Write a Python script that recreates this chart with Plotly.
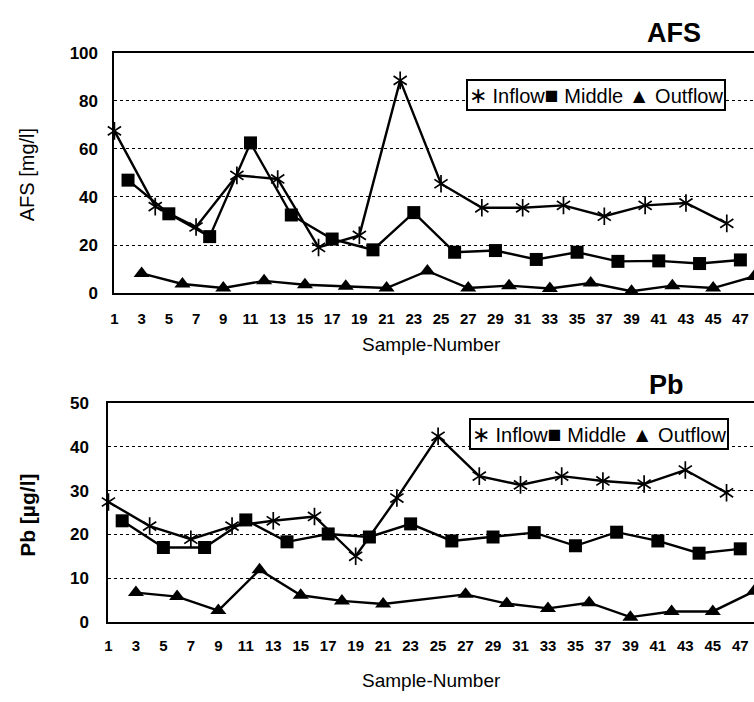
import plotly.graph_objects as go

# ---------------- data ----------------
afs_inflow_x = [1, 4, 7, 10, 13, 16, 19, 22, 25, 28, 31, 34, 37, 40, 43, 46]
afs_inflow = [67.5, 36, 27.5, 49, 47.5, 19, 24, 88.5, 45.5, 35.5, 35.5, 36.5, 32, 36.5, 37.5, 29]
afs_middle_x = [2, 5, 8, 11, 14, 17, 20, 23, 26, 29, 32, 35, 38, 41, 44, 47]
afs_middle = [47, 33, 23.5, 62.5, 32.5, 22.5, 18, 33.5, 17, 17.7, 14, 17, 13.2, 13.4, 12.3, 13.8]
afs_outflow_x = [3, 6, 9, 12, 15, 18, 21, 24, 27, 30, 33, 36, 39, 42, 45, 48]
afs_outflow = [8.2, 3.8, 2.1, 5.1, 3.5, 2.8, 2.1, 9.2, 2.1, 3.1, 1.9, 4.2, 0.8, 3.1, 2.1, 6.9]

pb_inflow_x = [1, 4, 7, 10, 13, 16, 19, 22, 25, 28, 31, 34, 37, 40, 43, 46]
pb_inflow = [27.4, 21.9, 18.9, 21.9, 23.1, 24.1, 15.0, 28.3, 42.4, 33.3, 31.3, 33.3, 32.2, 31.5, 34.7, 29.5]
pb_middle_x = [2, 5, 8, 11, 14, 17, 20, 23, 26, 29, 32, 35, 38, 41, 44, 47]
pb_middle = [23.1, 17.0, 17.0, 23.3, 18.3, 20.1, 19.4, 22.4, 18.5, 19.4, 20.4, 17.4, 20.5, 18.5, 15.7, 16.7]
pb_outflow_x = [3, 6, 9, 12, 15, 18, 21, 27, 30, 33, 36, 39, 42, 45, 48]
pb_outflow = [6.7, 5.8, 2.6, 11.9, 6.1, 4.8, 4.1, 6.3, 4.2, 3.1, 4.4, 1.1, 2.4, 2.4, 7.0]

x_ticks = list(range(1, 48, 2))
afs_yticks = [0, 20, 40, 60, 80, 100]
pb_yticks = [0, 10, 20, 30, 40, 50]

FONT = "Liberation Sans, Arial, sans-serif"
BLACK = "black"

fig = go.Figure()


def add_series(xs, ys, xa, ya, kind):
    fig.add_trace(go.Scatter(x=xs, y=ys, mode="lines", xaxis=xa, yaxis=ya,
                             line=dict(color=BLACK, width=2.4), showlegend=False,
                             cliponaxis=False, hoverinfo="skip"))
    if kind == "star":
        for sym in ["y-up-open", "y-down-open"]:
            fig.add_trace(go.Scatter(x=xs, y=ys, mode="markers", xaxis=xa, yaxis=ya,
                                     marker=dict(symbol=sym, size=11, color=BLACK,
                                                 line=dict(color=BLACK, width=1.7)),
                                     showlegend=False, cliponaxis=False))
    elif kind == "square":
        fig.add_trace(go.Scatter(x=xs, y=ys, mode="markers", xaxis=xa, yaxis=ya,
                                 marker=dict(symbol="square", size=13, color=BLACK),
                                 showlegend=False, cliponaxis=False))
    else:
        fig.add_trace(go.Scatter(x=xs, y=ys, mode="markers", xaxis=xa, yaxis=ya,
                                 marker=dict(symbol="triangle-up", size=14, color=BLACK),
                                 showlegend=False, cliponaxis=False))


add_series(afs_inflow_x, afs_inflow, "x", "y", "star")
add_series(afs_middle_x, afs_middle, "x", "y", "square")
add_series(afs_outflow_x, afs_outflow, "x", "y", "tri")
add_series(pb_inflow_x, pb_inflow, "x2", "y2", "star")
add_series(pb_middle_x, pb_middle, "x2", "y2", "square")
add_series(pb_outflow_x, pb_outflow, "x2", "y2", "tri")

W, H = 754, 702


def px_x(v):
    return v / W


def px_y(v):
    return 1 - v / H


xcommon = dict(range=[1, 48], tickvals=x_ticks, ticktext=[str(t) for t in x_ticks],
               showline=True, linecolor=BLACK, linewidth=2, mirror=True,
               showgrid=False, zeroline=False, ticks="outside",
               tickcolor="rgba(0,0,0,0)",
               tickfont=dict(family=FONT, size=15, color=BLACK, weight="bold"))
ycommon = dict(showline=True, linecolor=BLACK, linewidth=2, mirror=False,
               showgrid=True, gridcolor=BLACK, gridwidth=1, griddash="dot",
               zeroline=False, ticks="outside", tickcolor="rgba(0,0,0,0)",
               tickfont=dict(family=FONT, size=17, color=BLACK, weight="bold"))

fig.update_layout(
    width=W, height=H,
    margin=dict(l=0, r=0, t=0, b=0),
    paper_bgcolor="white", plot_bgcolor="white",
    xaxis=dict(domain=[px_x(111), 1], anchor="y", ticklen=11, **xcommon),
    yaxis=dict(domain=[px_y(292), px_y(45)], anchor="x", range=[0, 100],
               tickvals=afs_yticks, ticklen=11, **ycommon),
    xaxis2=dict(domain=[px_x(105), 1], anchor="y2", ticklen=9, **xcommon),
    yaxis2=dict(domain=[px_y(630), px_y(405)], anchor="x2", range=[0, 50],
                tickvals=pb_yticks, ticklen=14, **ycommon),
)

ann = []
# chart titles
ann.append(dict(text="<b>AFS</b>", x=px_x(674), y=px_y(25), xref="paper", yref="paper",
                showarrow=False, font=dict(family=FONT, size=27, color=BLACK),
                xanchor="center", yanchor="middle"))
ann.append(dict(text="<b>Pb</b>", x=px_x(666), y=px_y(386), xref="paper", yref="paper",
                showarrow=False, font=dict(family=FONT, size=27, color=BLACK),
                xanchor="center", yanchor="middle"))
# axis titles
ann.append(dict(text="AFS [mg/l]", x=px_x(24), y=px_y(170), xref="paper", yref="paper",
                showarrow=False, textangle=-90, font=dict(family=FONT, size=20, color=BLACK),
                xanchor="center", yanchor="middle"))
ann.append(dict(text="<b>Pb [µg/l]</b>", x=px_x(24), y=px_y(520), xref="paper", yref="paper",
                showarrow=False, textangle=-90, font=dict(family=FONT, size=21, color=BLACK),
                xanchor="center", yanchor="middle"))
ann.append(dict(text="Sample-Number", x=px_x(430), y=px_y(345), xref="paper", yref="paper",
                showarrow=False, font=dict(family=FONT, size=19, color=BLACK),
                xanchor="center", yanchor="middle"))
ann.append(dict(text="Sample-Number", x=px_x(430), y=px_y(690), xref="paper", yref="paper",
                showarrow=False, font=dict(family=FONT, size=19, color=BLACK),
                xanchor="center", yanchor="middle"))
# legends
legend_text = ("<span style='font-size:22px'>∗</span> Inflow"
               "<span style='font-size:23px'>■</span> Middle "
               "<span style='font-size:21px'>▲</span> Outflow")
ann.append(dict(text=legend_text, x=px_x(595), y=px_y(88.5), xref="paper", yref="paper",
                showarrow=False, font=dict(family=FONT, size=20, color=BLACK),
                bordercolor=BLACK, borderwidth=2, borderpad=1, bgcolor="white",
                xanchor="center", yanchor="middle"))
ann.append(dict(text=legend_text, x=px_x(598), y=px_y(437), xref="paper", yref="paper",
                showarrow=False, font=dict(family=FONT, size=20, color=BLACK),
                bordercolor=BLACK, borderwidth=2, borderpad=1, bgcolor="white",
                xanchor="center", yanchor="middle"))
fig.update_layout(annotations=ann)

fig.write_html("out.html", config={"displayModeBar": False},
               post_script="document.body.style.margin='0';document.body.style.padding='0';")
